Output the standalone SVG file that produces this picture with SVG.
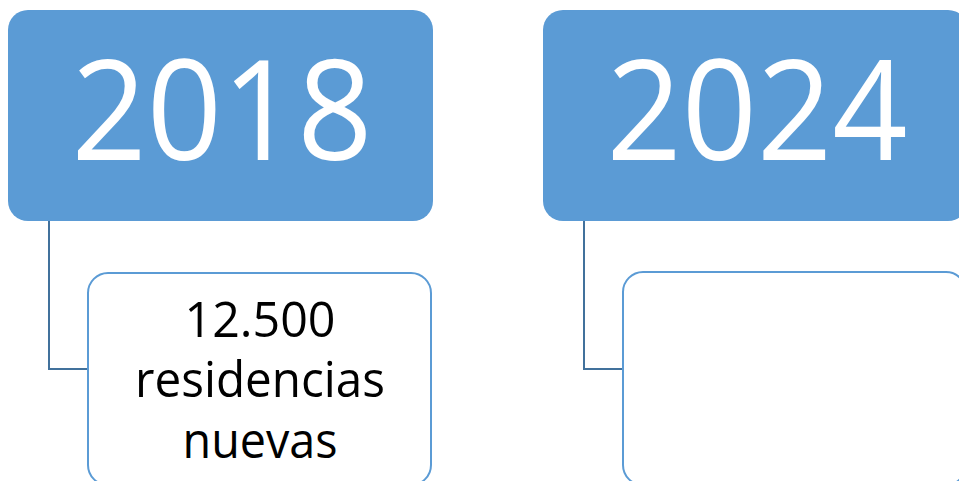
<svg xmlns="http://www.w3.org/2000/svg" width="959" height="481" viewBox="0 0 959 481">
<style>
.head{fill:#5B9BD5;}
.child{fill:#FFFFFF;stroke:#5B9BD5;stroke-width:2;}
.conn{fill:none;stroke:#41719C;stroke-width:2;}
.year{font-family:"Open Sans","Liberation Sans",Arial,sans-serif;font-size:140px;fill:#FFFFFF;text-anchor:middle;}
.body{font-family:"Open Sans","Liberation Sans",Arial,sans-serif;font-size:49px;fill:#000000;text-anchor:middle;}
</style>
<rect width="959" height="481" fill="#FFFFFF"/>
<g id="connectors">
<path class="conn" d="M49,221 V369 H88"/>
<path class="conn" d="M584,221 V369 H623"/>
</g>
<g id="node-2018">
<rect class="head" x="8" y="10" width="425" height="211" rx="20" ry="20"/>
<text class="year" x="222" y="160" textLength="301" lengthAdjust="spacingAndGlyphs">2018</text>
</g>
<g id="node-2018-detail">
<rect class="child" x="88" y="273" width="343" height="212" rx="20" ry="20"/>
<text class="body" x="260" y="337" textLength="151" lengthAdjust="spacingAndGlyphs">12.500</text>
<text class="body" x="260" y="397" textLength="250" lengthAdjust="spacingAndGlyphs">residencias</text>
<text class="body" x="260" y="458" textLength="155" lengthAdjust="spacingAndGlyphs">nuevas</text>
</g>
<g id="node-2024">
<rect class="head" x="543" y="10" width="425" height="211" rx="20" ry="20"/>
<text class="year" x="757" y="160" textLength="301" lengthAdjust="spacingAndGlyphs">2024</text>
</g>
<g id="node-2024-detail">
<rect class="child" x="623" y="272" width="343" height="213" rx="20" ry="20"/>
</g>
</svg>
